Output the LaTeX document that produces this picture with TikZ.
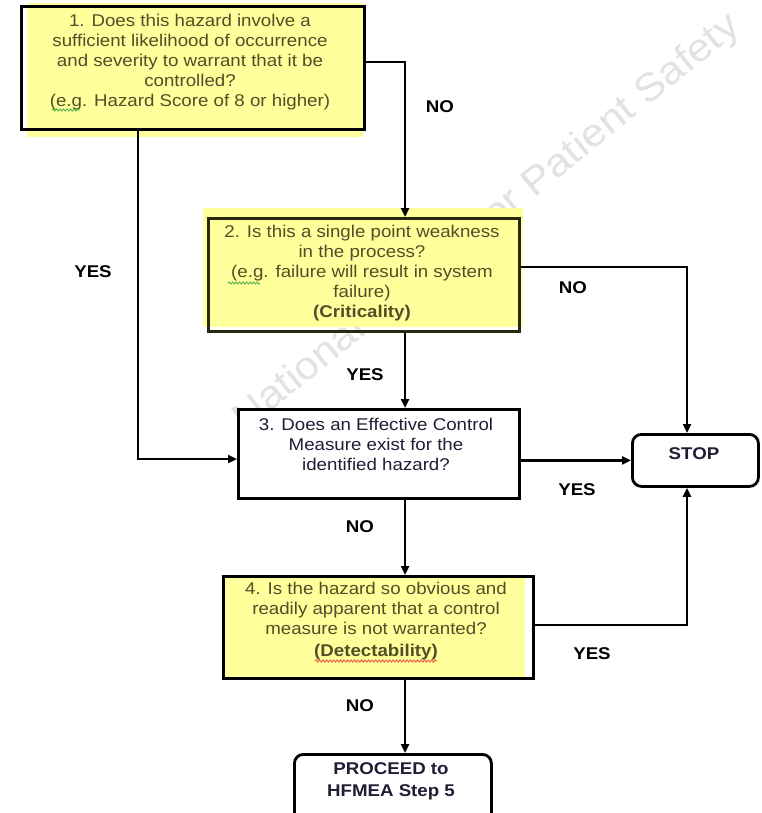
\documentclass[tikz,border=0pt]{standalone}
\usepackage{fontspec}
\setmainfont{Liberation Sans}[FakeStretch=1.1]
\usetikzlibrary{arrows.meta,decorations.pathmorphing}
\definecolor{qyellow}{RGB}{255,255,156}
\definecolor{qtext}{RGB}{82,78,40}
\definecolor{qedge}{RGB}{40,40,15}
\definecolor{btext}{RGB}{30,30,55}
\definecolor{wmgray}{RGB}{226,226,226}
\definecolor{sqgreen}{RGB}{70,170,70}
\definecolor{sqred}{RGB}{235,70,60}
\tikzset{
  txt/.style={font=\fontsize{17}{20}\selectfont, inner sep=0pt, align=center},
  qt/.style={txt, text=qtext},
  bt/.style={txt, text=btext},
  lbl/.style={txt, font=\fontsize{17}{20}\selectfont\bfseries, text=black},
  frame/.style={draw=#1, line width=2.8pt, inner sep=0pt, anchor=north west},
  rframe/.style={frame=black, rounded corners=9pt, fill=white},
  conn/.style={line width=2.8pt, draw=black, -{Triangle[length=9pt,width=8pt]}},
  squig/.style={draw=#1, line width=0.8pt, decorate, decoration={snake, amplitude=1.1pt, segment length=3.5pt}},
  wm/.style={font=\fontsize{39}{44}\selectfont, text=wmgray, inner sep=0pt}
}
\begin{document}
\begin{tikzpicture}[x=1pt,y=-1pt]
\useasboundingbox (0,0) rectangle (761,813);
\clip (0,0) rectangle (761,813);
\fill[white] (0,0) rectangle (761,813);

% watermark
\node[wm, rotate=39, anchor=base east] (wmk) at (742,30) {National Center for Patient Safety};

% yellow fills
\fill[qyellow] (27,3) rectangle (363,137);
\fill[qyellow] (203,208) rectangle (523,327);
\fill[qyellow] (222,575) rectangle (525,677);

% boxes
\node[frame=black, minimum width=343pt, minimum height=123pt] (b1) at (20,5) {};
\node[frame=qedge, minimum width=311pt, minimum height=113pt] (b2) at (207,217) {};
\node[frame=black, fill=white, minimum width=281pt, minimum height=89pt] (b3) at (237,408) {};
\node[frame=black, minimum width=310pt, minimum height=102pt] (b4) at (222,575) {};
\node[rframe, minimum width=126pt, minimum height=52pt] (stop) at (631,433) {};
\node[rframe, minimum width=197pt, minimum height=90pt] (proc) at (293,753) {};

% texts
\node[qt] (t1) at (190,62) {1. Does this hazard involve a\\sufficient likelihood of occurrence\\and severity to warrant that it be\\controlled?\\(e.g. Hazard Score of 8 or higher)};
\node[qt] (t2) at (362,273) {2. Is this a single point weakness\\in the process?\\(e.g. failure will result in system\\failure)\\\textbf{(Criticality)}};
\node[bt] (t3) at (376,444) {3. Does an Effective Control\\Measure exist for the\\identified hazard?};
\node[qt] (t4) at (376,621) {4. Is the hazard so obvious and\\readily apparent that a control\\measure is not warranted?\\[2pt]\textbf{(Detectability)}};
\node[bt, font=\fontsize{17}{22}\selectfont\bfseries] (t5) at (694,454) {STOP};
\node[bt, font=\fontsize{17}{22}\selectfont\bfseries] (t6) at (391,781) {PROCEED to\\HFMEA Step 5};

% spell-check squiggles
\draw[squig=sqgreen] (52,110) -- (80,110);
\draw[squig=sqgreen] (228,283) -- (260,283);
\draw[squig=sqred] (315,661) -- (437,661);

% junction points
\coordinate (j1) at (138,459);
\coordinate (j2) at (405,62);
\coordinate (j3) at (687,267);
\coordinate (j4) at (687,625);

% connectors
\draw[conn] (b1.south -| j1) -- (j1) -- (b3.west |- j1);
\draw[conn] (b1.east |- j2) -- (j2) -- (b2.north -| j2);
\draw[conn] (b2.south -| j2) -- (b3.north -| j2);
\draw[conn] (b2.east |- j3) -- (j3) -- (stop.north -| j3);
\draw[conn] (b3.east |- stop.west) -- (stop.west);
\draw[conn] (b3.south -| j2) -- (b4.north -| j2);
\draw[conn] (b4.east |- j4) -- (j4) -- (stop.south -| j4);
\draw[conn] (b4.south -| j2) -- (proc.north -| j2);

% labels
\node[lbl] (l1) at (440,107) {NO};
\node[lbl] (l2) at (93,272) {YES};
\node[lbl] (l3) at (365,375) {YES};
\node[lbl] (l4) at (573,288) {NO};
\node[lbl] (l5) at (577,490) {YES};
\node[lbl] (l6) at (360,527) {NO};
\node[lbl] (l7) at (592,654) {YES};
\node[lbl] (l8) at (360,706) {NO};
\end{tikzpicture}
\end{document}
